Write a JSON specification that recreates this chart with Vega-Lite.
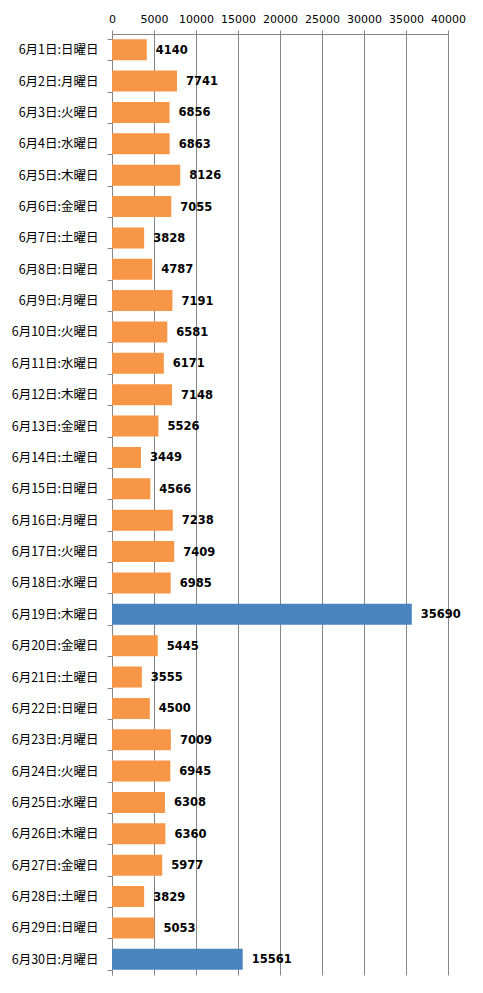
{
  "$schema": "https://vega.github.io/schema/vega-lite/v6.json",
  "autosize": {"type": "none"},
  "width": 336,
  "height": 941,
  "padding": {"left": 112, "top": 34, "right": 35, "bottom": 18},
  "background": "white",
  "config": {"view": {"stroke": null}, "font": "Noto Sans CJK JP"},
  "data": {"values": [
    {"day": "6月1日:日曜日", "count": 4140, "group": "通常"},
    {"day": "6月2日:月曜日", "count": 7741, "group": "通常"},
    {"day": "6月3日:火曜日", "count": 6856, "group": "通常"},
    {"day": "6月4日:水曜日", "count": 6863, "group": "通常"},
    {"day": "6月5日:木曜日", "count": 8126, "group": "通常"},
    {"day": "6月6日:金曜日", "count": 7055, "group": "通常"},
    {"day": "6月7日:土曜日", "count": 3828, "group": "通常"},
    {"day": "6月8日:日曜日", "count": 4787, "group": "通常"},
    {"day": "6月9日:月曜日", "count": 7191, "group": "通常"},
    {"day": "6月10日:火曜日", "count": 6581, "group": "通常"},
    {"day": "6月11日:水曜日", "count": 6171, "group": "通常"},
    {"day": "6月12日:木曜日", "count": 7148, "group": "通常"},
    {"day": "6月13日:金曜日", "count": 5526, "group": "通常"},
    {"day": "6月14日:土曜日", "count": 3449, "group": "通常"},
    {"day": "6月15日:日曜日", "count": 4566, "group": "通常"},
    {"day": "6月16日:月曜日", "count": 7238, "group": "通常"},
    {"day": "6月17日:火曜日", "count": 7409, "group": "通常"},
    {"day": "6月18日:水曜日", "count": 6985, "group": "通常"},
    {"day": "6月19日:木曜日", "count": 35690, "group": "突出"},
    {"day": "6月20日:金曜日", "count": 5445, "group": "通常"},
    {"day": "6月21日:土曜日", "count": 3555, "group": "通常"},
    {"day": "6月22日:日曜日", "count": 4500, "group": "通常"},
    {"day": "6月23日:月曜日", "count": 7009, "group": "通常"},
    {"day": "6月24日:火曜日", "count": 6945, "group": "通常"},
    {"day": "6月25日:水曜日", "count": 6308, "group": "通常"},
    {"day": "6月26日:木曜日", "count": 6360, "group": "通常"},
    {"day": "6月27日:金曜日", "count": 5977, "group": "通常"},
    {"day": "6月28日:土曜日", "count": 3829, "group": "通常"},
    {"day": "6月29日:日曜日", "count": 5053, "group": "通常"},
    {"day": "6月30日:月曜日", "count": 15561, "group": "突出"}
  ]},
  "encoding": {
    "y": {
      "field": "day", "type": "nominal", "sort": null,
      "scale": {"paddingInner": 0.33, "paddingOuter": 0.165},
      "axis": {
        "title": null, "orient": "left", "grid": false,
        "domainColor": "#868686", "tickColor": "#868686", "tickSize": 5,
        "tickBand": "extent", "labelFontSize": 12.5, "labelColor": "#000000",
        "labelPadding": 9, "labelFont": "Noto Sans CJK JP"
      }
    },
    "x": {
      "field": "count", "type": "quantitative",
      "scale": {"domain": [0, 40000], "nice": false},
      "axis": {
        "title": null, "orient": "top", "values": [0,5000,10000,15000,20000,25000,30000,35000,40000],
        "format": "d", "grid": true, "gridColor": "#868686", "gridOpacity": 1,
        "domainColor": "#868686", "tickColor": "#868686", "tickSize": 4,
        "labelFontSize": 11, "labelColor": "#000000", "labelFont": "DejaVu Sans",
        "labelPadding": 6, "labelFlush": false
      }
    }
  },
  "layer": [
    {
      "mark": {"type": "bar"},
      "encoding": {
        "color": {
          "field": "group", "type": "nominal", "legend": null,
          "scale": {"domain": ["通常", "突出"], "range": ["#F79646", "#4A84BE"]}
        }
      }
    },
    {
      "mark": {"type": "text", "align": "left", "baseline": "middle", "dx": 9, "dy": 1, "fontWeight": "bold", "fontSize": 11.5, "font": "DejaVu Sans", "color": "#000000"},
      "encoding": {"text": {"field": "count", "type": "quantitative", "format": "d"}}
    }
  ]
}
